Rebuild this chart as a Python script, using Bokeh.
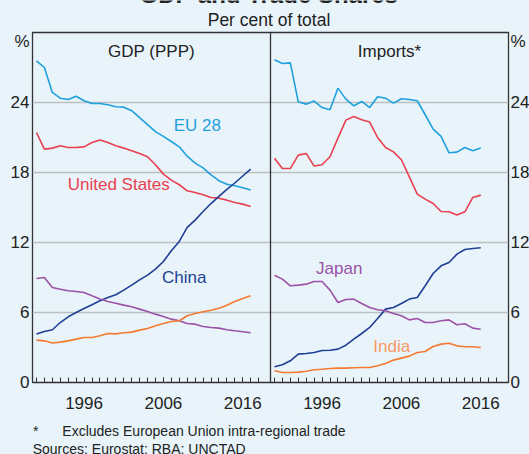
from bokeh.plotting import figure
from bokeh.layouts import column
from bokeh.models import Range1d, FixedTicker, LinearAxis, Span, Label, GlobalInlineStyleSheet
from bokeh.core.properties import value
from bokeh.embed import file_html
from bokeh.resources import INLINE

# ---------------- data ----------------
years_gdp = [1990, 1991, 1992, 1993, 1994, 1995, 1996, 1997, 1998, 1999,
             2000, 2001, 2002, 2003, 2004, 2005, 2006, 2007, 2008, 2009,
             2010, 2011, 2012, 2013, 2014, 2015, 2016, 2017]
gdp_eu = [27.57, 27.0, 24.86, 24.37, 24.26, 24.54, 24.15, 23.91, 23.91, 23.8,
          23.63, 23.6, 23.3, 22.7, 22.1, 21.5, 21.1, 20.66, 20.2, 19.4,
          18.8, 18.4, 17.8, 17.3, 17.0, 16.86, 16.7, 16.5]
gdp_us = [21.43, 20.0, 20.09, 20.29, 20.14, 20.14, 20.2, 20.57, 20.78, 20.57,
          20.29, 20.09, 19.86, 19.63, 19.35, 18.66, 17.86, 17.35, 16.95, 16.43,
          16.29, 16.09, 15.86, 15.8, 15.63, 15.43, 15.29, 15.09]
gdp_china = [4.15, 4.37, 4.52, 5.14, 5.63, 6.0, 6.34, 6.66, 7.0, 7.29,
             7.52, 7.92, 8.35, 8.8, 9.2, 9.72, 10.37, 11.29, 12.09, 13.29,
             13.92, 14.66, 15.34, 15.95, 16.55, 17.1, 17.7, 18.29]
gdp_japan = [8.92, 9.0, 8.14, 8.0, 7.86, 7.8, 7.72, 7.43, 7.15, 6.94,
             6.8, 6.63, 6.49, 6.29, 6.09, 5.86, 5.66, 5.43, 5.29, 5.06,
             5.0, 4.8, 4.72, 4.66, 4.52, 4.43, 4.35, 4.26]
gdp_india = [3.63, 3.57, 3.38, 3.46, 3.57, 3.72, 3.86, 3.86, 4.0, 4.2,
             4.17, 4.26, 4.32, 4.49, 4.63, 4.86, 5.06, 5.23, 5.29, 5.72,
             5.91, 6.06, 6.2, 6.37, 6.63, 6.94, 7.2, 7.43]

years_imp = [1990, 1991, 1992, 1993, 1994, 1995, 1996, 1997, 1998, 1999,
             2000, 2001, 2002, 2003, 2004, 2005, 2006, 2007, 2008, 2009,
             2010, 2011, 2012, 2013, 2014, 2015, 2016]
imp_eu = [27.66, 27.34, 27.4, 24.06, 23.86, 24.12, 23.57, 23.37, 25.23, 24.29,
          23.72, 24.09, 23.57, 24.49, 24.37, 23.95, 24.32, 24.26, 24.15, 22.95,
          21.72, 21.09, 19.69, 19.75, 20.14, 19.86, 20.09]
imp_us = [19.23, 18.34, 18.34, 19.49, 19.63, 18.55, 18.66, 19.35, 20.95, 22.49,
          22.8, 22.52, 22.32, 21.0, 20.14, 19.77, 19.09, 17.63, 16.15, 15.72,
          15.34, 14.66, 14.63, 14.35, 14.63, 15.86, 16.06]
imp_china = [1.35, 1.52, 1.86, 2.43, 2.49, 2.57, 2.74, 2.77, 2.86, 3.2,
             3.72, 4.2, 4.72, 5.49, 6.29, 6.43, 6.77, 7.15, 7.29, 8.29,
             9.34, 10.0, 10.29, 11.0, 11.4, 11.49, 11.55]
imp_japan = [9.2, 8.86, 8.29, 8.35, 8.43, 8.66, 8.66, 7.92, 6.86, 7.12,
             7.15, 6.77, 6.43, 6.23, 6.15, 5.91, 5.72, 5.37, 5.49, 5.14,
             5.14, 5.29, 5.37, 4.95, 5.03, 4.66, 4.57]
imp_india = [1.0, 0.86, 0.86, 0.89, 0.97, 1.09, 1.14, 1.2, 1.23, 1.23,
             1.26, 1.29, 1.29, 1.43, 1.63, 1.92, 2.09, 2.26, 2.57, 2.66,
             3.09, 3.29, 3.37, 3.14, 3.06, 3.06, 3.0]

y_ticks = [0, 6, 12, 18, 24]
unit_tick = 29.27          # where the "%" unit label sits on both y axes
year_labels = [1996, 2006, 2016]
minor_years = [1990, 1991, 1992, 1993, 1994, 1995, 1996, 1997, 1998, 1999,
               2000, 2001, 2002, 2003, 2004, 2005, 2006, 2007, 2008, 2009,
               2010, 2011, 2012, 2013, 2014, 2015, 2016, 2017, 2018]

title_text = "GDP and Trade Shares"
subtitle_text = "Per cent of total"
footnote_text = "Excludes European Union intra-regional trade"
sources_text = "Sources: Eurostat; RBA; UNCTAD"

# ---------------- styles ----------------
BG = "#e8f4fa"
FONT = "Liberation Sans"
TXT = "#222222"
C_EU = "#1fa0dd"
C_US = "#e8404f"
C_CN = "#1f3f95"
C_JP = "#9b52a6"
C_IN = "#f47a30"
C_IN_LBL = "#f79a66"
C_GRID = "#bcbfc1"
C_FRAME = "#333333"
W = 529
FRAME_L, FRAME_R = 32, 508   # inner frame of every row (the column aligns them)


def blank(height):
    f = figure(width=W, height=height, x_range=Range1d(FRAME_L, FRAME_R), y_range=Range1d(0, height),
               output_backend="svg", toolbar_location=None, min_border=0,
               background_fill_color=BG, border_fill_color=BG)
    f.axis.visible = False
    f.grid.visible = False
    f.outline_line_color = None
    return f


# ---------------- header (title, cut at the top, and subtitle) ----------------
H_HEAD = 31
head = blank(H_HEAD)
head.text(x=[270], y=[23.2], text=[title_text], text_font=value(FONT), text_font_size="24px",
          text_font_style="bold", text_align="center", text_baseline="bottom", text_color=TXT)
head.text(x=[270], y=[11.4], text=[subtitle_text], text_font=value(FONT), text_font_size="17.5px",
          text_align="center", text_baseline="middle", text_color=TXT)

# ---------------- main two-panel chart ----------------
PANEL = 30  # years per panel; the imports panel sits PANEL years to the right
B_BOTTOM = 36

p = figure(frame_width=476, frame_height=350,
           x_range=Range1d(1989.5, 1989.5 + 2 * PANEL), y_range=Range1d(0, 30),
           output_backend="svg", toolbar_location=None,
           min_border_left=32, min_border_right=21, min_border_top=1, min_border_bottom=B_BOTTOM,
           background_fill_color=BG, border_fill_color=BG)
p.extra_x_ranges = {"imp": Range1d(1989.5 - PANEL, 1989.5 + PANEL)}

p.outline_line_color = C_FRAME
p.outline_line_width = 1.3

p.xgrid.visible = False
p.ygrid.ticker = FixedTicker(ticks=y_ticks[1:])
p.ygrid.grid_line_color = C_GRID
p.ygrid.grid_line_width = 1.5

major = year_labels + [y + PANEL for y in year_labels]
minor = minor_years + [y + PANEL for y in minor_years]
xa = p.xaxis[0]
xa.ticker = FixedTicker(ticks=major, minor_ticks=minor)
xa.major_label_overrides = {y + PANEL: str(y) for y in year_labels}
xa.axis_line_color = None
xa.major_tick_in = 5
xa.major_tick_out = 0
xa.minor_tick_in = 5
xa.minor_tick_out = 0
xa.major_tick_line_color = C_FRAME
xa.minor_tick_line_color = C_FRAME
xa.major_label_standoff = 14
xa.major_label_text_font = FONT
xa.major_label_text_font_size = "17px"
xa.major_label_text_color = TXT

ya = p.yaxis[0]
ry = LinearAxis()
p.add_layout(ry, "right")
for ax, so in ((ya, 3), (ry, 2)):
    ax.ticker = FixedTicker(ticks=y_ticks + [unit_tick])
    ax.major_label_overrides = {unit_tick: "%"}
    ax.axis_line_color = None
    ax.major_tick_in = 0
    ax.major_tick_out = 0
    ax.minor_tick_line_color = None
    ax.major_label_standoff = so
    ax.major_label_text_font = FONT
    ax.major_label_text_font_size = "17px"
    ax.major_label_text_color = TXT

p.add_layout(Span(location=1989.5 + PANEL, dimension="height", line_color=C_FRAME, line_width=1.3))

LW = 1.6
for ys, c in ((gdp_eu, C_EU), (gdp_us, C_US), (gdp_china, C_CN), (gdp_japan, C_JP), (gdp_india, C_IN)):
    p.line(years_gdp, ys, line_color=c, line_width=LW)
for ys, c in ((imp_eu, C_EU), (imp_us, C_US), (imp_china, C_CN), (imp_japan, C_JP), (imp_india, C_IN)):
    p.line(years_imp, ys, line_color=c, line_width=LW, x_range_name="imp")


def lab(x, y, text, color=TXT, size="17px", rng="default"):
    p.add_layout(Label(x=x, y=y, text=text, text_color=color, text_font=FONT, text_font_size=size,
                       text_align="center", text_baseline="middle", x_range_name=rng))


lab(2010.27, 22.03, "EU 28", C_EU)
lab(2000.37, 16.97, "United States", C_US)
lab(2008.62, 8.97, "China", C_CN)
lab(1998.16, 9.8, "Japan", C_JP, rng="imp")
lab(2004.78, 3.11, "India", C_IN_LBL, rng="imp")
lab(2004.5, 28.41, "GDP (PPP)")
lab(2034.5, 28.41, "Imports*")

# ---------------- footer (notes) ----------------
H_FOOT = 454 - H_HEAD - 1 - 350 - B_BOTTOM
foot = blank(H_FOOT)
foot.text(x=[32.5, 62], y=[24, 24], text=["*", footnote_text], text_font=value(FONT),
          text_font_size="14px", text_align="left", text_baseline="middle", text_color=TXT)
foot.text(x=[32.2], y=[5.4], text=[sources_text], text_font=value(FONT),
          text_font_size="14px", text_align="left", text_baseline="middle", text_color=TXT)

root = column(head, p, foot, spacing=0)
root.stylesheets = [GlobalInlineStyleSheet(
    css="html, body {margin:0; padding:0; overflow:hidden; background:%s;}" % BG)]

open("out.html", "w").write(file_html(root, INLINE))
